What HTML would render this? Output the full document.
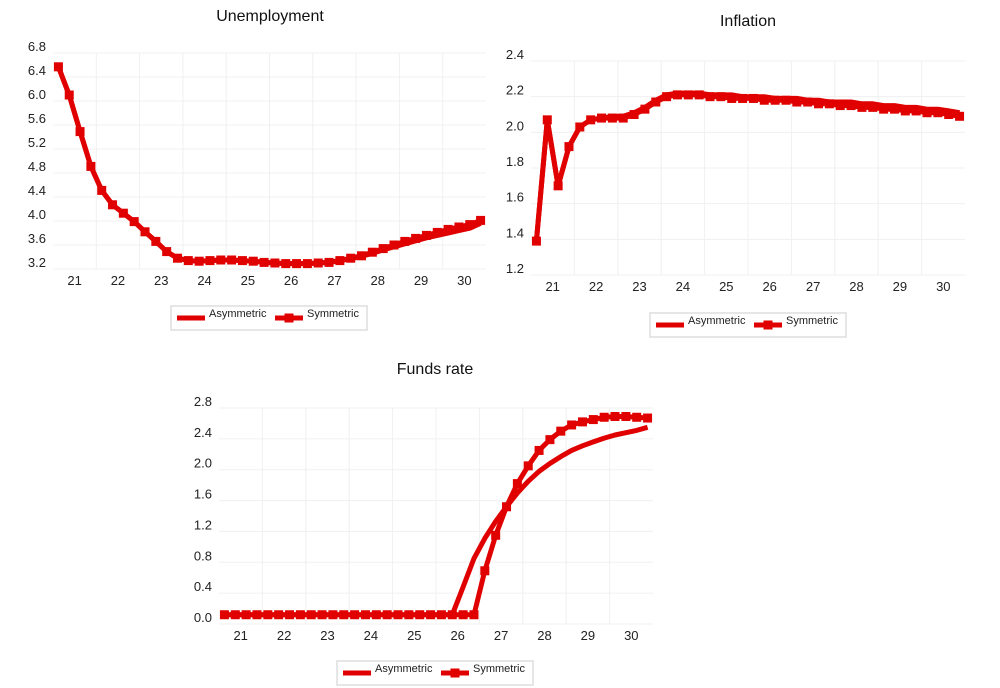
<!DOCTYPE html>
<html><head><meta charset="utf-8">
<style>
body{margin:0;background:#fff;font-family:"Liberation Sans",sans-serif}
svg{display:block}
</style></head>
<body>
<svg id="chart" width="1000" height="688" viewBox="0 0 1000 688" xmlns="http://www.w3.org/2000/svg"></svg>
<script>
const years = ["21","22","23","24","25","26","27","28","29","30"];
const unempTicks = [3.2,3.6,4.0,4.4,4.8,5.2,5.6,6.0,6.4,6.8];
const inflTicks = [1.2,1.4,1.6,1.8,2.0,2.2,2.4];
const fundsTicks = [0.0,0.4,0.8,1.2,1.6,2.0,2.4,2.8];
const unempSym = [6.57,6.10,5.49,4.91,4.51,4.27,4.13,3.99,3.82,3.66,3.49,3.38,3.34,3.33,3.34,3.35,3.35,3.34,3.33,3.31,3.30,3.29,3.29,3.29,3.30,3.31,3.34,3.38,3.42,3.48,3.54,3.60,3.66,3.71,3.76,3.81,3.86,3.90,3.94,4.01];
const unempAsym = [6.57,6.10,5.49,4.91,4.51,4.27,4.13,3.99,3.82,3.66,3.49,3.38,3.34,3.33,3.34,3.35,3.35,3.34,3.33,3.31,3.30,3.29,3.29,3.29,3.30,3.31,3.34,3.37,3.41,3.46,3.52,3.57,3.62,3.67,3.72,3.76,3.80,3.84,3.88,3.96];
const inflSym = [1.39,2.07,1.70,1.92,2.03,2.07,2.08,2.08,2.08,2.10,2.13,2.17,2.20,2.21,2.21,2.21,2.20,2.20,2.19,2.19,2.19,2.18,2.18,2.18,2.17,2.17,2.16,2.16,2.15,2.15,2.14,2.14,2.13,2.13,2.12,2.12,2.11,2.11,2.10,2.09];
const inflAsym = [1.39,2.07,1.70,1.92,2.03,2.07,2.08,2.09,2.09,2.11,2.14,2.18,2.21,2.22,2.22,2.22,2.21,2.21,2.21,2.20,2.20,2.20,2.19,2.19,2.19,2.18,2.18,2.17,2.17,2.17,2.16,2.16,2.15,2.15,2.14,2.14,2.13,2.13,2.12,2.11];
const fundsSym = [0.12,0.12,0.12,0.12,0.12,0.12,0.12,0.12,0.12,0.12,0.12,0.12,0.12,0.12,0.12,0.12,0.12,0.12,0.12,0.12,0.12,0.12,0.12,0.12,0.69,1.15,1.52,1.82,2.05,2.25,2.39,2.50,2.58,2.62,2.65,2.68,2.69,2.69,2.68,2.67];
const fundsAsym = [0.12,0.12,0.12,0.12,0.12,0.12,0.12,0.12,0.12,0.12,0.12,0.12,0.12,0.12,0.12,0.12,0.12,0.12,0.12,0.12,0.12,0.12,0.48,0.85,1.11,1.33,1.52,1.70,1.85,1.98,2.08,2.17,2.25,2.31,2.36,2.41,2.45,2.48,2.51,2.55];

const NS="http://www.w3.org/2000/svg";
const svg=document.getElementById('chart');
const RED="#e00000";
function mk(tag,attrs,parent){const e=document.createElementNS(NS,tag);for(const k in attrs)e.setAttribute(k,attrs[k]);(parent||svg).appendChild(e);return e;}

function chart(cfg){
  const g=mk('g',{});
  
  
  const xs=i=>cfg.left+(i+0.5)*(cfg.right-cfg.left)/40;
  const ys=v=>cfg.bottom-(v-cfg.min)/(cfg.max-cfg.min)*(cfg.bottom-cfg.top);
  const yw=(cfg.right-cfg.left)/years.length;
  cfg.ticks.forEach(t=>{
    const l=mk('line',{x1:cfg.left,x2:cfg.right,y1:ys(t),y2:ys(t),stroke:"#f0f0f0","stroke-width":1},g);
    
    
    const tx=mk('text',{x:cfg.left-7,y:ys(t)-2,"text-anchor":"end","font-size":13,fill:"#222"},g);
    tx.textContent=t.toFixed(1);
    
    
  });
  years.forEach((yr,k)=>{
    if(k>0){const l=mk('line',{x1:cfg.left+k*yw,x2:cfg.left+k*yw,y1:cfg.top,y2:cfg.bottom,stroke:"#f0f0f0","stroke-width":1},g);
    
    }
    const tx=mk('text',{x:cfg.left+(k+0.5)*yw,y:cfg.bottom+16,"text-anchor":"middle","font-size":13,fill:"#222"},g);
    tx.textContent=yr;
    
    
  });
  const tt=mk('text',{x:cfg.tx,y:cfg.ty,"text-anchor":"middle","font-size":16,fill:"#111"},g);
  tt.textContent=cfg.title;
  
  
  const pts=a=>a.map((v,i)=>xs(i).toFixed(1)+","+ys(v).toFixed(1)).join(" ");
  const pa=mk('polyline',{points:pts(cfg.asym),fill:"none",stroke:RED,"stroke-width":5,"stroke-linejoin":"round"},g);
  
  
  const ps=mk('polyline',{points:pts(cfg.sym),fill:"none",stroke:RED,"stroke-width":5,"stroke-linejoin":"round"},g);
  
  
  cfg.sym.forEach((v,i)=>{
    const r=mk('rect',{x:xs(i)-4.5,y:ys(v)-4.5,width:9,height:9,fill:RED},g);
    
    
  });
  const L=cfg.lx, T=cfg.ly;
  const lg=mk('g',{},g);
  
  
  mk('rect',{x:L,y:T,width:196,height:24,fill:"#fff",stroke:"#ddd","stroke-width":1.5},lg);
  mk('line',{x1:L+6,x2:L+34,y1:T+12,y2:T+12,stroke:RED,"stroke-width":5},lg);
  const t1=mk('text',{x:L+38,y:T+11,"font-size":11,fill:"#222"},lg);t1.textContent="Asymmetric";
  
  
  mk('line',{x1:L+104,x2:L+132,y1:T+12,y2:T+12,stroke:RED,"stroke-width":5},lg);
  mk('rect',{x:L+113.5,y:T+7.5,width:9,height:9,fill:RED},lg);
  const t2=mk('text',{x:L+136,y:T+11,"font-size":11,fill:"#222"},lg);t2.textContent="Symmetric";
  
  
}
chart({name:"unemployment-chart",title:"Unemployment",tx:270,ty:21,left:53,right:486,top:53,bottom:269,min:3.2,max:6.8,ticks:unempTicks,sym:unempSym,asym:unempAsym,lx:171,ly:306});
chart({name:"inflation-chart",title:"Inflation",tx:748,ty:26,left:531,right:965,top:61,bottom:275,min:1.2,max:2.4,ticks:inflTicks,sym:inflSym,asym:inflAsym,lx:650,ly:313});
chart({name:"funds-rate-chart",title:"Funds rate",tx:435,ty:374,left:219,right:653,top:408,bottom:624,min:0,max:2.8,ticks:fundsTicks,sym:fundsSym,asym:fundsAsym,lx:337,ly:661});
</script>
</body></html>
